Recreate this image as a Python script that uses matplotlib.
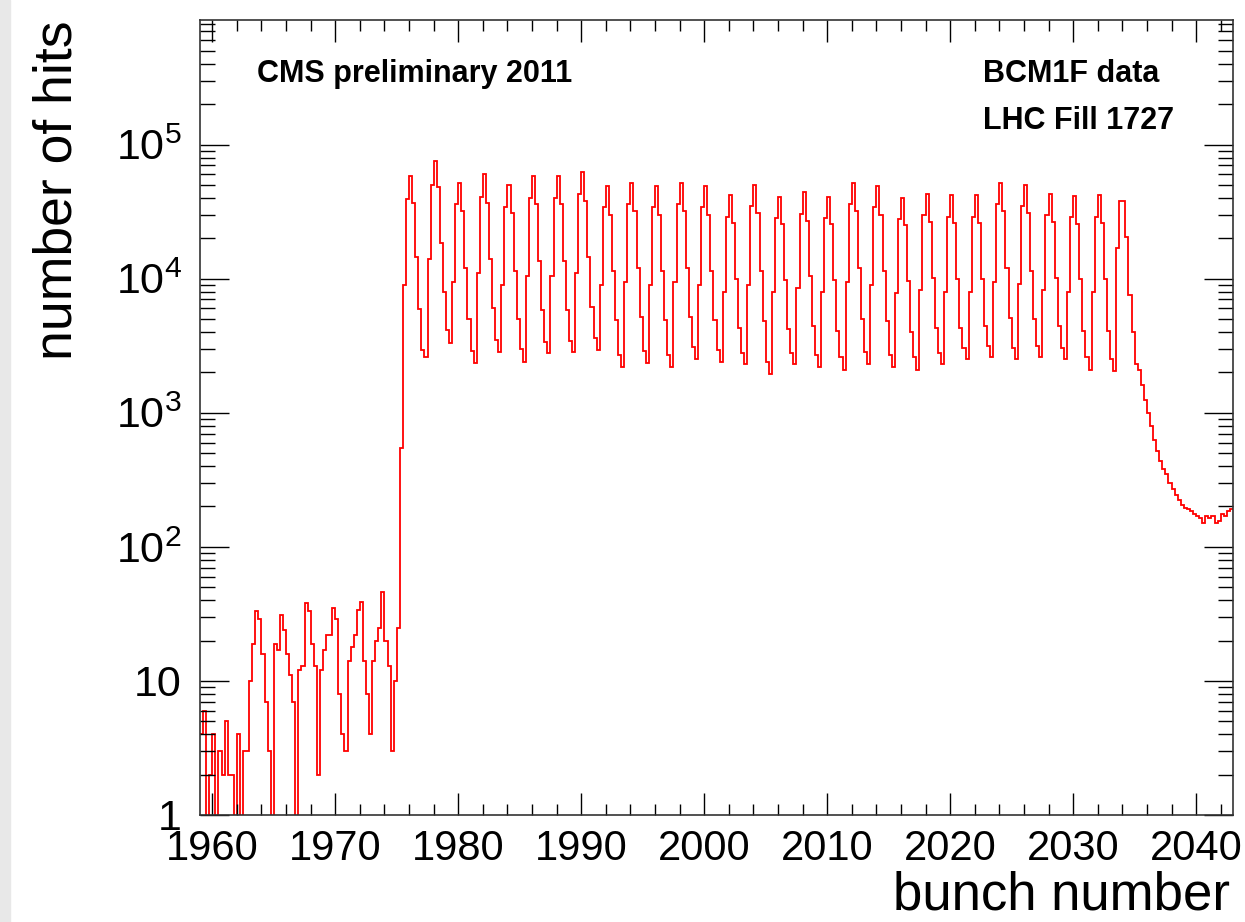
import numpy as np
import matplotlib
matplotlib.use("Agg")
import matplotlib.pyplot as plt
from matplotlib.ticker import MultipleLocator, LogLocator, FuncFormatter, NullFormatter
from matplotlib.patches import Rectangle

plt.rcParams['font.family'] = ['Liberation Sans', 'DejaVu Sans']

# histogram: 0.25 wide bins starting at bunch 1959
x_start = 1959.0
bin_width = 0.25

# 1959.00 .. 1975.25 (before the train)
low = [4, 6, 0, 2,   4, 0, 3, 2,   5, 2, 2, 0,   4, 0, 3, 3,
       10, 19, 33, 29,  16, 7, 3, 0,  19, 17, 31, 24,  16, 11, 7, 0,
       12, 13, 38, 33,  19, 13, 2, 12,  17, 22, 22, 35,  29, 8, 4, 3,
       14, 18, 22, 34,  39, 14, 8, 4,  14, 20, 25, 46,  20, 13, 3, 10,
       25, 550]

# 1975.50 .. 2033.25, one line per filled bunch (peaks at 1976, 1978, ... 2032)
train = [
    9000, 39000, 58000, 37000, 14500, 5900, 2950, 2600,
    14000, 50000, 76000, 48000, 18500, 7900, 4150, 3300,
    9500, 36000, 52000, 32000, 12000, 5000, 2900, 2350,
    11000, 41000, 60000, 37000, 14000, 6000, 3500, 2850,
    9000, 34000, 50000, 31000, 11500, 5000, 3000, 2400,
    10500, 40000, 58000, 36000, 13500, 5800, 3400, 2800,
    10500, 40000, 58000, 36000, 13500, 5800, 3450, 2850,
    11000, 43000, 62000, 38000, 14500, 6200, 3600, 2950,
    9000, 34000, 49000, 30000, 11500, 4900, 2700, 2200,
    9500, 36000, 52000, 32000, 12000, 5200, 2900, 2350,
    9000, 34000, 49000, 30000, 11500, 4900, 2700, 2200,
    9500, 36000, 52000, 32000, 12000, 5200, 3100, 2500,
    9000, 34000, 49000, 30000, 11500, 4900, 2950, 2400,
    8000, 29000, 42000, 26000, 10000, 4300, 2800, 2300,
    9000, 35000, 50000, 31000, 11500, 4800, 2400, 1950,
    8000, 28500, 41000, 25500, 9800, 4200, 2800, 2300,
    8500, 30500, 44000, 27000, 10500, 4400, 2700, 2200,
    8000, 28500, 41000, 25500, 9800, 4100, 2600, 2100,
    9500, 36000, 52000, 32000, 12000, 5000, 2850, 2300,
    9000, 34000, 49000, 30000, 11500, 4800, 2700, 2200,
    7800, 28000, 40000, 25000, 9600, 4000, 2600, 2100,
    8200, 30000, 43000, 26500, 10200, 4300, 2800, 2300,
    8000, 29000, 42000, 26000, 10000, 4300, 3050, 2500,
    8000, 29000, 42000, 26000, 10000, 4400, 3150, 2600,
    9500, 36000, 52000, 32000, 12000, 5100, 3050, 2500,
    9200, 35000, 50000, 31000, 11500, 5000, 3150, 2600,
    8200, 30000, 43000, 26500, 10200, 4400, 3050, 2500,
    8000, 29000, 41500, 25500, 9900, 4100, 2600, 2100,
    8000, 29000, 42000, 26000, 10000, 4100, 2500, 2050,
]

# 2033.50 .. 2042.75 (last bunch and afterglow)
tail = [17000, 38000, 38000, 20500, 7600, 4000,
        2300, 2100, 1600, 1250, 1000, 800, 630, 520,
        440, 380, 350, 300, 270, 245, 225, 205,
        195, 190, 185, 175, 170, 165, 150, 170,
        165, 170, 150, 155, 175, 170, 185, 190]

counts = np.array(low + train + tail, dtype=float)
edges = x_start + bin_width * np.arange(len(counts) + 1)

fig = plt.figure(figsize=(12.45, 9.22), dpi=100)
fig.patches.append(Rectangle((0, 0), 0.008, 1, transform=fig.transFigure,
                             color='#e8e8e8', zorder=-1))
ax = fig.add_axes([200 / 1245, 1 - 815 / 922, 1033 / 1245, 795 / 922])

# empty bins drawn below the axis like ROOT does
plot_counts = np.where(counts > 0, counts, 1e-3)
ax.stairs(plot_counts, edges, color='red', lw=1.3, baseline=None)

ax.set_yscale('log')
ax.set_xlim(edges[0], edges[-1])
ax.set_ylim(1, 8.5e5)

ax.xaxis.set_major_locator(MultipleLocator(10))
ax.xaxis.set_minor_locator(MultipleLocator(2))
ax.yaxis.set_major_locator(LogLocator(base=10, numticks=10))
ax.yaxis.set_minor_locator(LogLocator(base=10, subs=range(2, 10), numticks=20))
ax.yaxis.set_minor_formatter(NullFormatter())


def ylab(v, pos):
    if v < 1.5:
        return '1'
    if v < 15:
        return '10'
    return r'$\mathdefault{10^{%d}}$' % round(np.log10(v))


ax.yaxis.set_major_formatter(FuncFormatter(ylab))

ax.tick_params(axis='x', which='major', direction='in', top=True, length=16,
               width=1, labelsize=30, pad=10)
ax.tick_params(axis='x', which='minor', direction='in', top=True, length=8, width=1)
ax.tick_params(axis='y', which='major', direction='in', right=True, length=21,
               width=1, labelsize=31, pad=13)
ax.tick_params(axis='y', which='minor', direction='in', right=True, length=11, width=1)
for s in ax.spines.values():
    s.set_linewidth(1.2)
    s.set_color('#333333')

fig.text(0.046, 1 - 20 / 922, 'number of hits', rotation=90, ha='center', va='top',
         fontsize=38.5)
fig.text(1230 / 1245, 1 - 909 / 922, 'bunch number', ha='right', va='baseline',
         fontsize=38)

ax.text(257 / 1245, 1 - 82 / 922, 'CMS preliminary 2011', transform=fig.transFigure,
        fontsize=22, fontweight='bold', va='baseline')
ax.text(983 / 1245, 1 - 82 / 922, 'BCM1F data', transform=fig.transFigure,
        fontsize=22, fontweight='bold', va='baseline')
ax.text(983 / 1245, 1 - 129 / 922, 'LHC Fill 1727', transform=fig.transFigure,
        fontsize=22, fontweight='bold', va='baseline')

fig.savefig('out.png', dpi=100)
